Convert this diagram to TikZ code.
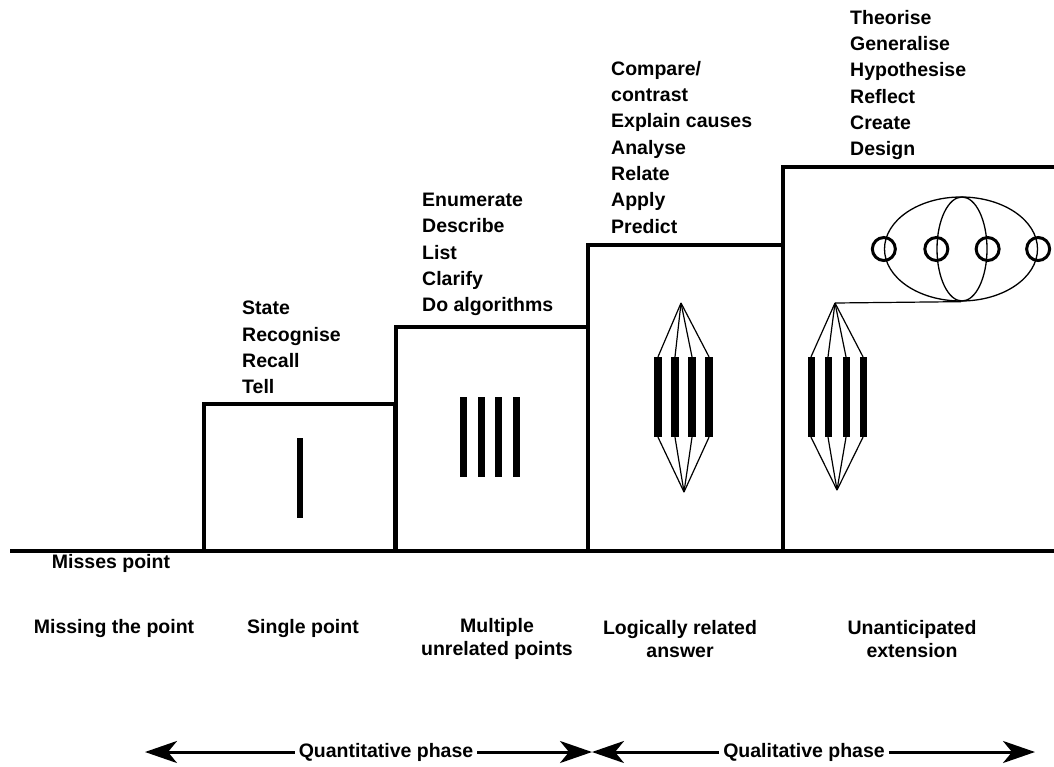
\documentclass[tikz,border=0pt]{standalone}
\usepackage{fontspec}
\setmainfont{Liberation Sans}
\usetikzlibrary{arrows.meta,positioning,shapes.geometric}

\begin{document}
\begin{tikzpicture}[x=1pt, y=-1pt,
    stair/.style = {line width=4.5pt},
    bar/.style = {fill=black, inner sep=0, minimum width=7pt, minimum height=80pt},
    fan/.style = {line width=1.2pt},
    ring/.style = {draw, circle, line width=3pt, inner sep=0, minimum size=23pt},
    oval/.style = {draw, ellipse, line width=1.3pt, inner sep=0, minimum height=104pt},
    verbs/.style = {anchor=north west, align=left, inner sep=0, font=\fontsize{19.5}{26.3}\selectfont\bfseries},
    level/.style = {align=center, inner sep=0, font=\fontsize{19.5}{23}\selectfont\bfseries},
    phase/.style = {inner sep=4pt, font=\fontsize{19.5}{23}\selectfont\bfseries},
    spread/.style = {->, line width=3pt, >={Stealth[length=32pt,width=22pt,inset=9pt]}}]
        \useasboundingbox (0,0) rectangle (1054,766);

        % ground and the four steps
        \draw[stair] (10,551) -- (1054,551);
        \draw[stair] (204,551) rectangle (395,404);
        \draw[stair] (396,551) rectangle (588,327);
        \draw[stair] (588,551) rectangle (783,245);
        \draw[stair] (783,551) |- (1054,167);

        % verbs above the steps
        \node[verbs] (v1) at (242,301) {State\\Recognise\\Recall\\Tell};
        \node[verbs] (v2) at (422,193) {Enumerate\\Describe\\List\\Clarify\\Do algorithms};
        \node[verbs] (v3) at (611,61) {Compare/\\contrast\\Explain causes\\Analyse\\Relate\\Apply\\Predict};
        \node[verbs] (v4) at (850,10) {Theorise\\Generalise\\Hypothesise\\Reflect\\Create\\Design};

        % single point
        \node[bar, minimum width=6pt] (s1) at (300,478) {};

        % multiple unrelated points
        \node[bar] (m1) at (463,437) {};
        \node[bar] (m2) at (481,437) {};
        \node[bar] (m3) at (498,437) {};
        \node[bar] (m4) at (516,437) {};

        % logically related answer
        \coordinate (r0) at (681,303);
        \coordinate (r9) at (684,492);
        \foreach \i/\x in {1/658, 2/675, 3/692, 4/709} {
            \node[bar, minimum width=8pt] (r\i) at (\x,397) {};
            \draw[fan] (r0) -- (r\i.north);
            \draw[fan] (r\i.south) -- (r9);
        }

        % unanticipated extension
        \coordinate (u0) at (835,303);
        \coordinate (u9) at (837,490);
        \foreach \i/\x in {1/811, 2/828, 3/846, 4/863} {
            \node[bar] (u\i) at (\x,397) {};
            \draw[fan] (u0) -- (u\i.north);
            \draw[fan] (u\i.south) -- (u9);
        }
        \node[oval, minimum width=153pt] (big) at (961,249) {};
        \node[oval, minimum width=50pt] (small) at (962,249) {};
        \draw[fan] (u0) -- (big.south);
        \node[ring] (c1) at (big.west) {};
        \node[ring] (c2) at (small.west) {};
        \node[ring] (c3) at (small.east) {};
        \node[ring] (c4) at (big.east) {};

        % level names
        \node[level] (miss) at (111,563) {Misses point};
        \node[level] (l1) at (114,628) {Missing the point};
        \node[level] (l2) at (303,628) {Single point};
        \node[level] (l3) at (497,639) {Multiple\\unrelated points};
        \node[level] (l4) at (680,639) {Logically related\\answer};
        \node[level] (l5) at (912,639) {Unanticipated\\extension};

        % phases
        \node[phase] (qn) at (386,752) {Quantitative phase};
        \node[phase] (ql) at (804,752) {Qualitative phase};
        \coordinate (qnL) at (145,752);
        \coordinate (qnR) at (592,752);
        \coordinate (qlL) at (592,752);
        \coordinate (qlR) at (1035,752);
        \draw[spread] (qn) -- (qnL);
        \draw[spread] (qn) -- (qnR);
        \draw[spread] (ql) -- (qlL);
        \draw[spread] (ql) -- (qlR);
\end{tikzpicture}
\end{document}
